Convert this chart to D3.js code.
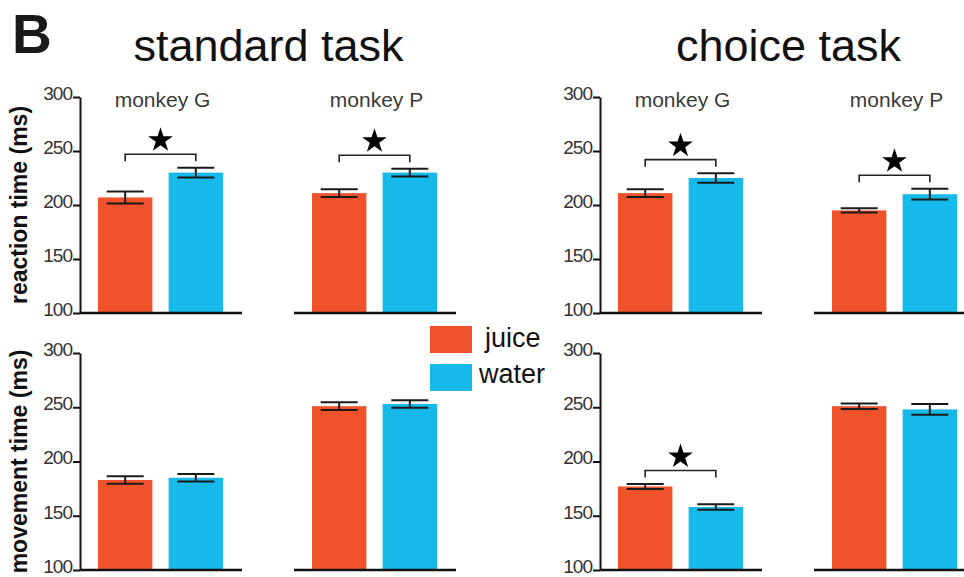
<!DOCTYPE html>
<html>
<head>
<meta charset="utf-8">
<script src="https://cdn.jsdelivr.net/npm/d3@7"></script>
<style>
  body { margin: 0; background: #fff; }
  svg { display: block; font-family: "Liberation Sans", Arial, sans-serif; }
</style>
</head>
<body>
<svg id="chart" width="964" height="577"></svg>
<script>
// values (ms); order: standard G, standard P, choice G, choice P
var tasks = ["standard task", "choice task"];
var monkeys = ["monkey G", "monkey P"];
var rewards = ["juice", "water"];
var measures = ["reaction time (ms)", "movement time (ms)"];
var yTicks = [100, 150, 200, 250, 300];

var reactionMean = [[207, 230], [211, 230], [211, 225], [195, 210]];
var reactionErr  = [[5.5, 4.5], [3.5, 3.5], [3.5, 4.5], [2, 5]];
var reactionSig  = [true, true, true, true];

var movementMean = [[183, 185], [251, 253], [177, 158], [251, 248]];
var movementErr  = [[3.5, 3.5], [3.5, 3.5], [2.3, 2.5], [2.5, 5]];
var movementSig  = [false, false, true, false];

var color = d3.scaleOrdinal().domain(rewards).range(["#f0532b", "#15b9ea"]);

var svg = d3.select("#chart");

// rows: pixel of the 300 tick and of the 100 tick
var rows = [
    {top: 97, bottom: 313, mean: reactionMean, err: reactionErr, sig: reactionSig, label: measures[0]},
    {top: 353, bottom: 570, mean: movementMean, err: movementErr, sig: movementSig, label: measures[1]}
];
var taskX = [0, 520];
var monkeyX = [98, 312];
var groupW = 125;

// panel letter and titles
svg.append("text").attr("x", 12).attr("y", 53)
    .style("font-size", "55px").style("font-weight", "bold").attr("fill", "#1a1a1a")
    .text("B");

tasks.forEach(function(t, ti) {
    svg.append("text")
        .attr("x", taskX[ti] + monkeyX[0] + (monkeyX[1] + groupW - monkeyX[0]) / 2 + 1)
        .attr("y", 61)
        .attr("text-anchor", "middle")
        .style("font-size", "45px").attr("fill", "#111")
        .text(t);
    monkeys.forEach(function(m, mi) {
        svg.append("text")
            .attr("x", taskX[ti] + monkeyX[mi] + groupW / 2 + 2)
            .attr("y", 107)
            .attr("text-anchor", "middle")
            .style("font-size", "21px").attr("fill", "#3a3a3a")
            .text(m);
    });
});

rows.forEach(function(row, ri) {
    var y = d3.scaleLinear().domain([100, 300]).range([row.bottom, row.top]);

    // y axis label
    svg.append("text")
        .attr("transform", "translate(27," + (row.top + row.bottom) / 2 + ") rotate(-90)")
        .attr("text-anchor", "middle")
        .style("font-size", "23px").style("font-weight", "bold").attr("fill", "#111")
        .text(row.label);

    tasks.forEach(function(t, ti) {
        monkeys.forEach(function(m, mi) {
            var k = ti * 2 + mi;
            var x0 = taskX[ti] + monkeyX[mi];
            var x = d3.scaleBand().domain(rewards).range([x0, x0 + groupW]).paddingInner(0.23);
            var g = svg.append("g");

            var data = rewards.map(function(r, i) {
                return {key: r, v: row.mean[k][i], e: row.err[k][i]};
            });

            g.selectAll("rect").data(data).enter().append("rect")
                .attr("x", function(d) { return x(d.key); })
                .attr("y", function(d) { return y(d.v); })
                .attr("width", x.bandwidth())
                .attr("height", function(d) { return y(100) - y(d.v); })
                .attr("fill", function(d) { return color(d.key); });

            // error bars
            var cap = 18.5;
            var eb = g.selectAll(".eb").data(data).enter().append("g")
                .attr("stroke", "#1a1a1a").attr("stroke-width", 2);
            eb.append("line")
                .attr("x1", function(d) { return x(d.key) + x.bandwidth() / 2; })
                .attr("x2", function(d) { return x(d.key) + x.bandwidth() / 2; })
                .attr("y1", function(d) { return y(d.v + d.e); })
                .attr("y2", function(d) { return y(d.v - d.e); });
            eb.selectAll(".cap").data(function(d) { return [d.v + d.e, d.v - d.e].map(function(v) { return {key: d.key, v: v}; }); })
                .enter().append("line")
                .attr("x1", function(d) { return x(d.key) + x.bandwidth() / 2 - cap; })
                .attr("x2", function(d) { return x(d.key) + x.bandwidth() / 2 + cap; })
                .attr("y1", function(d) { return y(d.v); })
                .attr("y2", function(d) { return y(d.v); });

            // baseline
            g.append("line")
                .attr("x1", x0 - 18).attr("x2", x0 + groupW + 19)
                .attr("y1", y(100)).attr("y2", y(100))
                .attr("stroke", "#111").attr("stroke-width", 2.5);

            // y axis only on monkey G
            if (mi === 0) {
                var ax = svg.append("g")
                    .attr("transform", "translate(" + (x0 - 18) + ",0)")
                    .call(d3.axisLeft(y).tickValues(yTicks).tickSize(7).tickSizeOuter(0).tickPadding(1));
                ax.select(".domain").attr("stroke", "#111").attr("stroke-width", 2);
                ax.selectAll(".tick line").attr("stroke", "#111").attr("stroke-width", 2);
                ax.selectAll(".tick text")
                    .attr("dy", "0.12em")
                    .style("font-size", "19px").style("letter-spacing", "-1px")
                    .style("font-family", "'Liberation Sans', Arial, sans-serif")
                    .attr("fill", "#333");
            }

            // significance bracket with star
            if (row.sig[k]) {
                var topV = d3.max(data, function(d) { return d.v + d.e; });
                var by = y(topV) - 13.5;
                var xa = x("juice") + x.bandwidth() / 2, xb = x("water") + x.bandwidth() / 2;
                g.append("path")
                    .attr("d", "M" + xa + "," + (by + 7) + "V" + by + "H" + xb + "V" + (by + 7))
                    .attr("fill", "none").attr("stroke", "#222").attr("stroke-width", 1.6);
                g.append("path")
                    .attr("d", d3.symbol().type(d3.symbolStar).size(190))
                    .attr("transform", "translate(" + (xa + xb) / 2 + "," + (by - 14) + ")")
                    .attr("fill", "#000");
            }
        });
    });
});

// legend
var legend = svg.append("g");
rewards.forEach(function(r, i) {
    legend.append("rect")
        .attr("x", 430).attr("y", 326 + i * 38)
        .attr("width", 42).attr("height", 27)
        .attr("fill", color(r));
    legend.append("text")
        .attr("x", r === "juice" ? 485 : 479).attr("y", 347 + i * 36)
        .style("font-size", "27px").attr("fill", "#111")
        .text(r);
});
</script>
</body>
</html>
